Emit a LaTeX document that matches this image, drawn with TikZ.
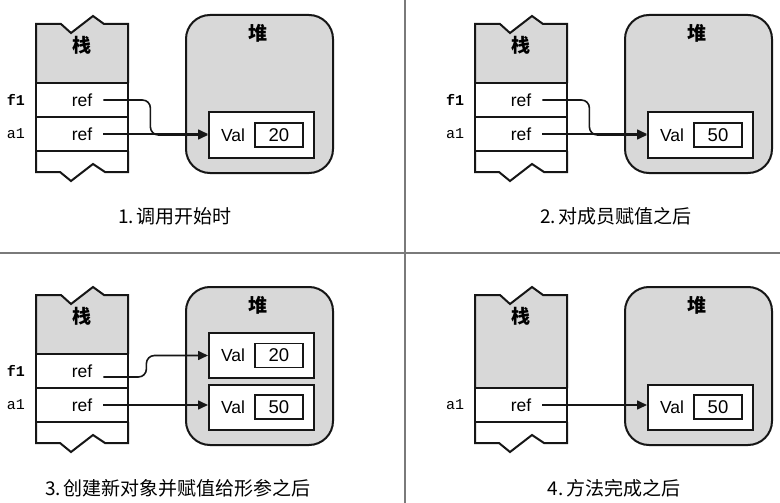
\documentclass[tikz,border=0pt]{standalone}
\usepackage{fontspec}
\setmainfont{Liberation Serif}
\setsansfont{Liberation Sans}
\setmonofont{Liberation Mono}
\newfontfamily\cjk{Noto Sans CJK SC}
\usetikzlibrary{arrows.meta}
\definecolor{cmem}{HTML}{D8D8D8}
\definecolor{cline}{HTML}{161616}
\definecolor{crule}{HTML}{7A7A7A}
\tikzset{
  stackline/.style={draw=cline, line width=2pt},
  cell/.style={draw=cline, line width=2pt, minimum width=92pt,
               minimum height=34pt, inner sep=0pt},
  reftxt/.style={font=\sffamily\fontsize{17.5}{17.5}\selectfont,
                 inner xsep=11pt, inner ysep=2pt},
  varname/.style={font=\ttfamily\fontsize{15}{15}\selectfont},
  heap/.style={draw=cline, fill=cmem, line width=2pt, rounded corners=24pt,
               minimum width=147pt, minimum height=158pt},
  title/.style={font=\cjk\bfseries\fontsize{19}{19}\selectfont},
  valbox/.style={draw=cline, fill=white, line width=2pt,
                 minimum width=105pt, minimum height=45pt},
  valtxt/.style={font=\sffamily\fontsize{17.5}{17.5}\selectfont},
  numbox/.style={draw=cline, line width=1.7pt, minimum width=48pt,
                 minimum height=24pt, font=\sffamily\fontsize{18.5}{18.5}\selectfont},
  caption/.style={font=\cjk\fontsize{19}{19}\selectfont},
  refarrow/.style={-{Triangle[length=10pt,width=9pt]}, line width=1.6pt, draw=cline},
  divider/.style={draw=crule, line width=1.2pt},
}
\newcommand{\stacktop}[1]{%
  \draw[stackline, fill=cmem] (36,#1) -- (36,24) -- (61,24) -- (71,33) -- (93,16)
    -- (104,24) -- (128,24) -- (128,#1);}
\newcommand{\stackbottom}{%
  \draw[stackline] (36,151) -- (36,172) -- (60,172) -- (71,181) -- (93,164)
    -- (105,172) -- (128,172) -- (128,151);}

\begin{document}
\begin{tikzpicture}[x=1pt, y=-1pt]
  \useasboundingbox[fill=white] (0,0) rectangle (780,503);
  \draw[divider] (405,0) -- (405,503);
  \draw[divider] (0,253) -- (780,253);

  % 1: call starts
  \begin{scope}
    \stacktop{83}
    \node[cell] (cf1) at (82,100) {};
    \node[cell] (ca1) at (82,134) {};
    \stackbottom
    \node[title] (stk1) at (82,45) {栈};
    \node[reftxt] (rf1) at (cf1) {ref};
    \node[reftxt] (ra1) at (ca1) {ref};
    \node[varname, font=\ttfamily\bfseries\fontsize{15}{15}\selectfont] (f1n1) at (16,100) {f1};
    \node[varname] (a1n1) at (16,134) {a1};
    \node[heap] (heap1) at (259.5,94) {};
    \node[title] (hp1) at (258,33) {堆};
    \node[valbox] (box1) at (261.5,135) {};
    \node[valtxt] (val1) at (233,135) {Val};
    \node[numbox] (num1) at (279,135) {20};
    \draw[refarrow] (ra1.east) -- (ra1.east -| box1.west);
    \draw[refarrow, rounded corners=8pt] (rf1.east) -- ++(47,0) |- (box1.west);
    \node[caption] (cap1) at (175,216) {1.\,调用开始时};
  \end{scope}

  % 2: after member assigned
  \begin{scope}[shift={(439,0)}]
    \stacktop{83}
    \node[cell] (cf2) at (82,100) {};
    \node[cell] (ca2) at (82,134) {};
    \stackbottom
    \node[title] (stk2) at (82,45) {栈};
    \node[reftxt] (rf2) at (cf2) {ref};
    \node[reftxt] (ra2) at (ca2) {ref};
    \node[varname, font=\ttfamily\bfseries\fontsize{15}{15}\selectfont] (f1n2) at (16,100) {f1};
    \node[varname] (a1n2) at (16,134) {a1};
    \node[heap] (heap2) at (259.5,94) {};
    \node[title] (hp2) at (258,33) {堆};
    \node[valbox] (box2) at (261.5,135) {};
    \node[valtxt] (val2) at (233,135) {Val};
    \node[numbox] (num2) at (279,135) {50};
    \draw[refarrow] (ra2.east) -- (ra2.east -| box2.west);
    \draw[refarrow, rounded corners=8pt] (rf2.east) -- ++(47,0) |- (box2.west);
    \node[caption] (cap2) at (177,216) {2.\,对成员赋值之后};
  \end{scope}

  % 3: new object assigned to parameter
  \begin{scope}[shift={(0,271)}]
    \stacktop{83}
    \node[cell] (cf3) at (82,100) {};
    \node[cell] (ca3) at (82,134) {};
    \stackbottom
    \node[title] (stk3) at (82,45) {栈};
    \node[reftxt] (rf3) at (cf3) {ref};
    \node[reftxt] (ra3) at (ca3) {ref};
    \node[varname, font=\ttfamily\bfseries\fontsize{15}{15}\selectfont] (f1n3) at (16,100) {f1};
    \node[varname] (a1n3) at (16,134) {a1};
    \node[heap] (heap3) at (259.5,95) {};
    \node[title] (hp3) at (258,34) {堆};
    \node[valbox] (box3a) at (261.5,84.5) {};
    \node[valtxt] (val3a) at (233,84.5) {Val};
    \node[numbox] (num3a) at (279,84.5) {20};
    \node[valbox] (box3b) at (261.5,136) {};
    \node[valtxt] (val3b) at (233,136) {Val};
    \node[numbox] (num3b) at (279,136) {50};
    \draw[refarrow] (ra3.east) -- (ra3.east -| box3b.west);
    \draw[refarrow, rounded corners=8pt] ([yshift=-6pt]rf3.east) -- ++(43,0) |- (box3a.west);
    \node[caption] (cap3) at (178,217) {3.\,创建新对象并赋值给形参之后};
  \end{scope}

  % 4: method finished
  \begin{scope}[shift={(439,271)}]
    \stacktop{117}
    \node[cell] (ca4) at (82,134) {};
    \stackbottom
    \node[title] (stk4) at (82,45) {栈};
    \node[reftxt] (ra4) at (ca4) {ref};
    \node[varname] (a1n4) at (16,134) {a1};
    \node[heap] (heap4) at (259.5,95) {};
    \node[title] (hp4) at (258,34) {堆};
    \node[valbox] (box4) at (261.5,136) {};
    \node[valtxt] (val4) at (233,136) {Val};
    \node[numbox] (num4) at (279,136) {50};
    \draw[refarrow] (ra4.east) -- (ra4.east -| box4.west);
    \node[caption] (cap4) at (175,217) {4.\,方法完成之后};
  \end{scope}
\end{tikzpicture}
\end{document}
